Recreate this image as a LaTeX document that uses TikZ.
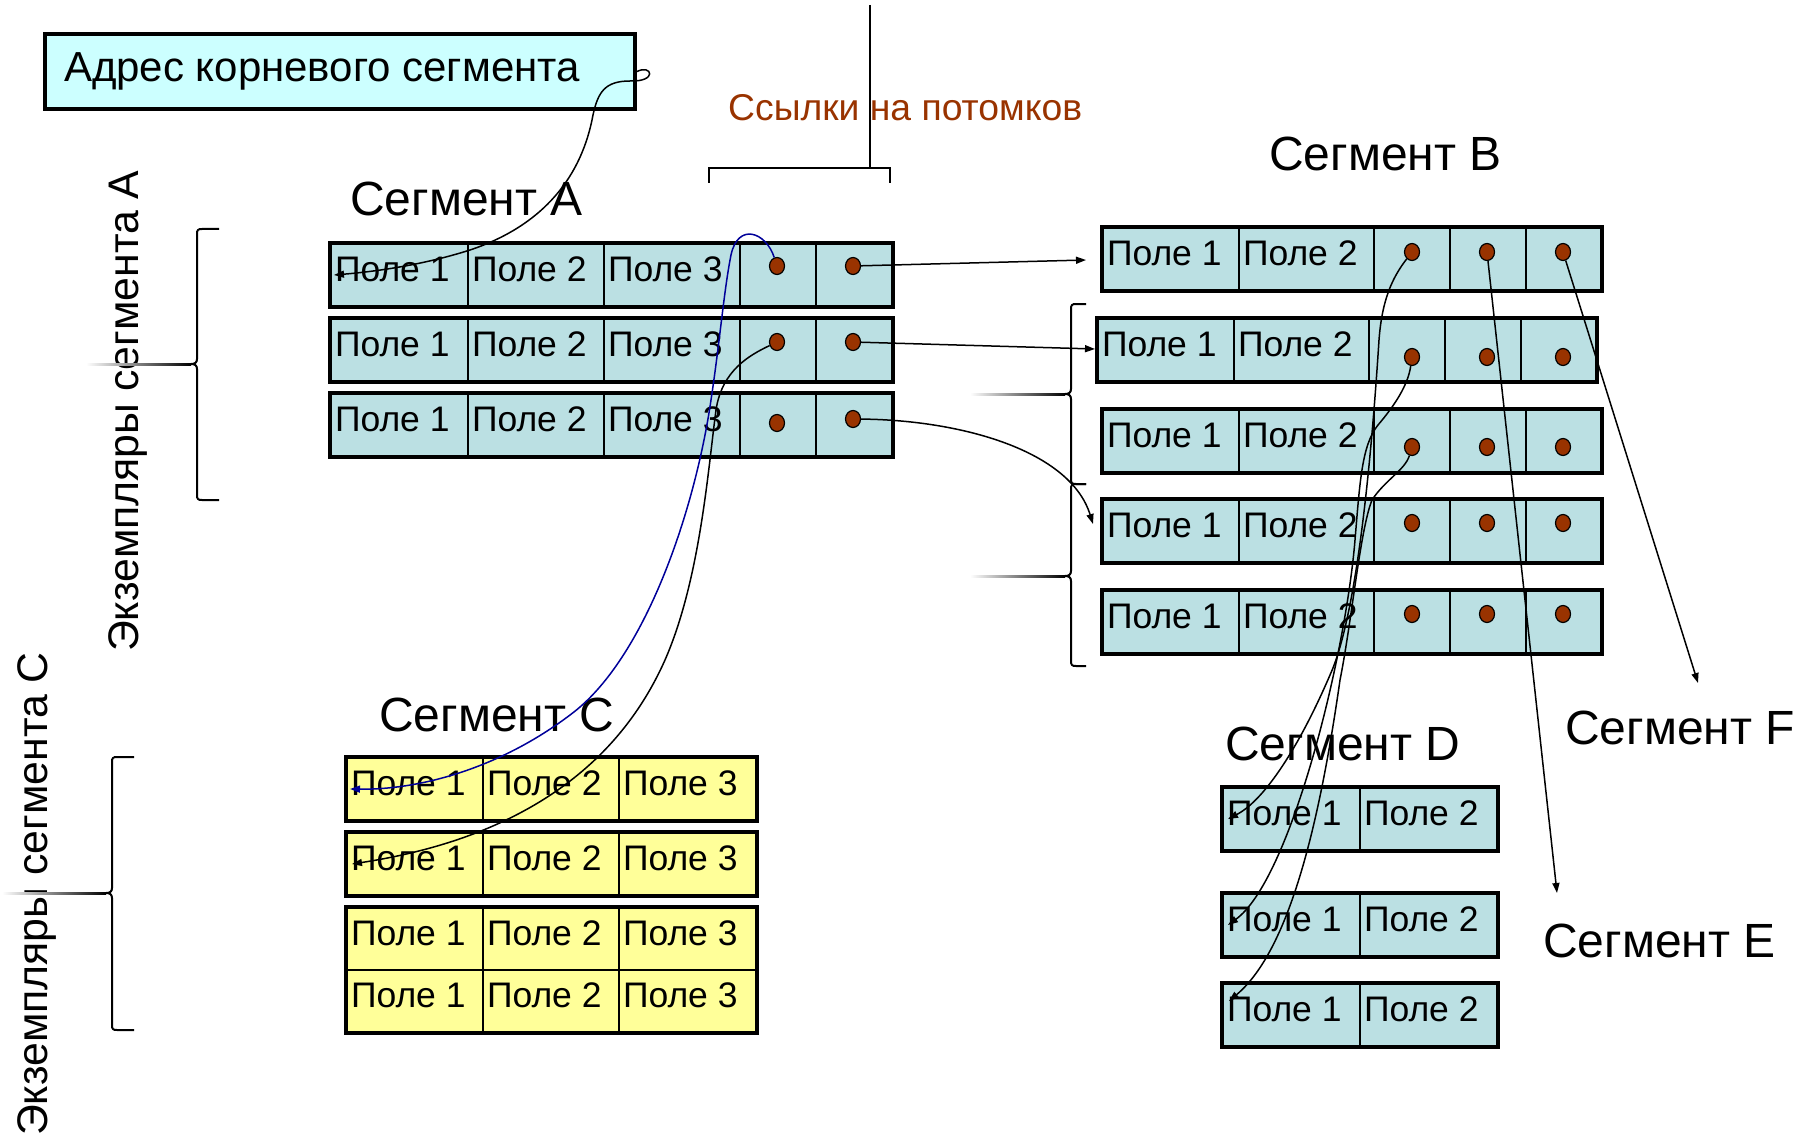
\documentclass[tikz,border=0pt]{standalone}
\usepackage{fontspec}
\setmainfont{Liberation Sans}
\usetikzlibrary{arrows.meta,calc,shapes.geometric}
\definecolor{cb}{HTML}{BBE0E3}
\definecolor{cy}{HTML}{FFFF99}
\definecolor{ca}{HTML}{CCFFFF}
\definecolor{br}{HTML}{993300}
\definecolor{nv}{HTML}{000099}
\newcommand\Cell[5]{\node[cellbox,minimum width=#4pt] (#1) at (#2,#3) {\makebox[\dimexpr#4pt-8pt\relax][l]{#5}};}
\newcommand\BraceL[5]{\draw[bracestyle] (#1+#5,#2) -- (#1+5,#2) .. controls (#1+1,#2) and (#1,#2+1) .. (#1,#2+5) -- (#1,#3-5) .. controls (#1,#3-1.5) and (#1-2,#3) .. (#1-6,#3) .. controls (#1-2,#3) and (#1,#3+1.5) .. (#1,#3+5) -- (#1,#4-5) .. controls (#1,#4-1) and (#1+1,#4) .. (#1+5,#4) -- (#1+#5,#4);}
\tikzset{
  cellfill/.style={fill=cb},
  cellbox/.style={draw, line width=2pt, cellfill, anchor=north west, minimum height=62pt,
    inner xsep=4pt, inner ysep=0pt, text height=25pt, text depth=12pt,
    font=\fontsize{35.5pt}{40pt}\selectfont},
  rowborder/.style={line width=4.5pt},
  dotn/.style={ellipse, draw, line width=1.2pt, fill=br, minimum width=15pt, minimum height=17pt, inner sep=0pt},
  title/.style={anchor=base west, inner sep=0pt, font=\fontsize{48pt}{54pt}\selectfont},
  vlabel/.style={rotate=90, anchor=base west, inner sep=0pt, font=\fontsize{42.8pt}{50pt}\selectfont},
  conn/.style={line width=1.5pt, -{Triangle[length=10pt,width=7pt]}},
  bracestyle/.style={line width=2pt},
}
\begin{document}
\begin{tikzpicture}[x=1pt,y=-1pt]
\useasboundingbox (0,0) rectangle (1800,1134);
% address box
\node[draw, line width=4pt, fill=ca, anchor=north west, minimum width=590pt, minimum height=75pt,
  inner xsep=19pt, inner ysep=0pt, text height=30pt, text depth=9pt,
  font=\fontsize{42pt}{48pt}\selectfont] (addr) at (43,32) {\makebox[552pt][l]{Адрес корневого сегмента}};
% references label and bracket
\node[anchor=base west, inner sep=0pt, text=br, font=\fontsize{37.3pt}{44pt}\selectfont] (refs) at (728,121) {Ссылки на потомков};
\draw[line width=2pt] (709,183) -- (709,168) -- (890,168) -- (890,183);
\draw[line width=1.5pt] (870,5) -- (870,168);
% titles
\node[title] (tA) at (350,216) {Сегмент A};
\node[title] (tB) at (1269,171) {Сегмент B};
\node[title] (tC) at (379,731) {Сегмент C};
\node[title] (tD) at (1225,760) {Сегмент D};
\node[title] (tE) at (1543,957) {Сегмент E};
\node[title] (tF) at (1565,744) {Сегмент F};
\node[vlabel] (instA) at (138,652) {Экземпляры сегмента А};
\node[vlabel] (instC) at (47,1136) {Экземпляры сегмента С};
% segment A
\foreach \r/\yy in {1/243,2/318,3/393} {
  \Cell{a\r c1}{330}{\yy}{137}{Поле 1}
  \Cell{a\r c2}{467}{\yy}{136}{Поле 2}
  \Cell{a\r c3}{603}{\yy}{136}{Поле 3}
  \Cell{a\r c4}{739}{\yy}{76}{}
  \Cell{a\r c5}{815}{\yy}{76}{}
  \draw[rowborder] (a\r c1.north west) rectangle (a\r c5.south east);
}
% segment B
\foreach \r/\xx/\yy in {1/1102/227,2/1097/318,3/1102/409,4/1102/499,5/1102/590} {
  \Cell{b\r c1}{\xx}{\yy}{136}{Поле 1}
  \Cell{b\r c2}{\xx+136}{\yy}{135}{Поле 2}
  \Cell{b\r c3}{\xx+271}{\yy}{76}{}
  \Cell{b\r c4}{\xx+347}{\yy}{76}{}
  \Cell{b\r c5}{\xx+423}{\yy}{75}{}
  \draw[rowborder] (b\r c1.north west) rectangle (b\r c5.south east);
}
% segment C
\begin{scope}[cellfill/.style={fill=cy}]
\foreach \r/\yy in {1/757,2/832,3/907,4/969} {
  \Cell{c\r c1}{346}{\yy}{136}{Поле 1}
  \Cell{c\r c2}{482}{\yy}{136}{Поле 2}
  \Cell{c\r c3}{618}{\yy}{137}{Поле 3}
}
\draw[rowborder] (c1c1.north west) rectangle (c1c3.south east);
\draw[rowborder] (c2c1.north west) rectangle (c2c3.south east);
\draw[rowborder] (c3c1.north west) rectangle (c4c3.south east);
\end{scope}
% segment D
\foreach \r/\yy in {1/787,2/893,3/983} {
  \Cell{d\r c1}{1222}{\yy}{137}{Поле 1}
  \Cell{d\r c2}{1359}{\yy}{137}{Поле 2}
  \draw[rowborder] (d\r c1.north west) rectangle (d\r c2.south east);
}
% dots
\node[dotn] (a1d1) at (777,266) {};
\node[dotn] (a1d2) at (853,266) {};
\node[dotn] (a2d1) at (777,342) {};
\node[dotn] (a2d2) at (853,342) {};
\node[dotn] (a3d1) at (777,423) {};
\node[dotn] (a3d2) at (853,419) {};
\foreach \r/\yy in {1/252,2/357,3/447,4/523,5/614} {
  \node[dotn] (b\r d1) at (1412,\yy) {};
  \node[dotn] (b\r d2) at (1487,\yy) {};
  \node[dotn] (b\r d3) at (1563,\yy) {};
}
% braces
\BraceL{197}{229}{364}{500}{22}
\shade[left color=white, right color=black] (86,363) rectangle (191,365.5);
\BraceL{1071}{304}{394}{484}{15}
\BraceL{1071}{484}{576}{666}{15}
\shade[left color=white, right color=black] (970,393) rectangle (1065,395.5);
\shade[left color=white, right color=black] (970,575) rectangle (1065,577.5);
\BraceL{112}{757}{893}{1030}{22}
\shade[left color=white, right color=black] (2,892) rectangle (106,894.5);
% connectors
\coordinate (eTip) at (1557,893);
\coordinate (fTip) at (1698,683);
\draw[conn] (addr.east) .. controls (652,64) and (658,82) .. (630,81)
  .. controls (605,81) and (598,92) .. (593,115)
  .. controls (582,175) and (545,225) .. (470,250)
  .. controls (420,266) and (370,272) .. ($(a1c1.west)+(4,0)$);
\draw[conn, nv] (a1d1) .. controls (766,232) and (738,222) .. (731,255)
  .. controls (724,290) and (720,340) .. (711,400)
  .. controls (695,510) and (645,660) .. (570,715)
  .. controls (500,768) and (420,790) .. ($(c1c1.west)+(4,0)$);
\draw[conn] (a2d1) .. controls (750,355) and (722,370) .. (716,410)
  .. controls (708,470) and (700,580) .. (665,660)
  .. controls (625,750) and (540,835) .. ($(c2c1.west)+(6,0)$);
\draw[conn] (a1d2) -- ($(b1c1.west)+(-16,1)$);
\draw[conn] (a2d2) -- ($(b2c1.west)+(-2,-1)$);
\draw[conn] (a3d2) .. controls (960,420) and (1070,450) .. ($(b4c1.west)+(-9,-7)$);
\draw[conn] (b1d1) .. controls (1392,278) and (1382,300) .. (1379,340)
  .. controls (1370,480) and (1355,620) .. (1330,675)
  .. controls (1300,745) and (1265,800) .. ($(d1c1.west)+(6,0)$);
\draw[conn] (b2d1) .. controls (1408,385) and (1395,405) .. (1378,425)
  .. controls (1362,445) and (1360,480) .. (1355,540)
  .. controls (1345,660) and (1290,880) .. ($(d2c1.west)+(6,0)$);
\draw[conn] (b3d1) .. controls (1405,470) and (1385,480) .. (1372,500)
  .. controls (1360,530) and (1352,620) .. (1340,680)
  .. controls (1320,820) and (1290,950) .. ($(d3c1.west)+(7,-14)$);
\draw[conn] (b1d2) -- (eTip);
\draw[conn] (b1d3) -- (fTip);
\end{tikzpicture}
\end{document}
